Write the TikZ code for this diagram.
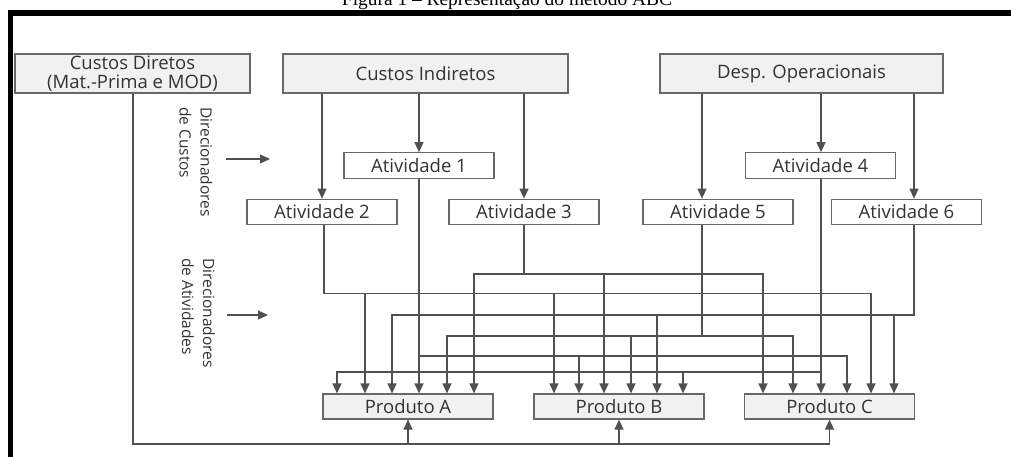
\documentclass[tikz,border=0pt]{standalone}
\usepackage{graphicx}
\usepackage{fontspec}
\setmainfont{Open Sans}
\newfontfamily\titlefont{Liberation Serif}
\usetikzlibrary{arrows.meta}
\definecolor{ln}{HTML}{505050}
\definecolor{bd}{HTML}{686868}
\definecolor{tx}{HTML}{333333}
\definecolor{fillg}{HTML}{F1F1F1}
\begin{document}
\begin{tikzpicture}[x=1pt,y=-1pt,
  box/.style={draw=bd, line width=1.2pt, inner sep=0pt, text=tx, font=\fontsize{18.5}{19}\selectfont, align=center},
  topbox/.style={box, fill=fillg, minimum height=39pt},
  actbox/.style={box, fill=white, minimum width=150pt, minimum height=25.5pt},
  prodbox/.style={box, fill=fillg, minimum width=170pt, minimum height=25pt},
  conn/.style={draw=ln, line width=1.2pt},
  arr/.style={conn, -{Triangle[length=10pt,width=9pt]}},
  lab/.style={rotate=-90, align=left, text=tx, font=\fontsize{15.5}{21}\selectfont, inner sep=0pt},
  frame/.style={draw=black, line width=5.5pt, line join=miter}
]
\useasboundingbox (0,0) rectangle (1011,457);
% title and frame
\node[anchor=base, inner sep=0pt] (title) at (507,5.5) {\resizebox{330pt}{!}{\titlefont\fontsize{14}{15}\selectfont Figura 1 – Representação do método ABC}};
\coordinate (fBL) at (10.5,460);
\coordinate (fTL) at (10.5,13);
\coordinate (fTR) at (1015,13);
\draw[frame] (fBL) -- (fTL) -- (fTR);

% top boxes
\node[topbox, minimum width=235pt] (cd) at (132.5,73.5) {Custos Diretos\\(Mat.-Prima e MOD)};
\node[topbox, minimum width=285pt] (ci) at (425.5,73.5) {Custos Indiretos};
\node[topbox, minimum width=283pt] (dp) at (801.5,73.5) {Desp. Operacionais};

% activities
\node[actbox] (a1) at (419,165.5) {Atividade 1};
\node[actbox] (a2) at (322,212) {Atividade 2};
\node[actbox] (a3) at (524,212) {Atividade 3};
\node[actbox] (a4) at (820.5,165.5) {Atividade 4};
\node[actbox] (a5) at (718,212) {Atividade 5};
\node[actbox] (a6) at (906.5,212) {Atividade 6};

% products
\node[prodbox] (pA) at (408,406.5) {Produto A};
\node[prodbox] (pB) at (619,406.5) {Produto B};
\node[prodbox] (pC) at (829.5,406.5) {Produto C};

% side labels
\node[lab] (dc) at (196,162) {Direcionadores\\de Custos};
\node[lab] (da) at (198.5,313) {Direcionadores\\de Atividades};
\coordinate (dcS) at (226,159);
\coordinate (dcE) at (270,159);
\coordinate (daS) at (227,315);
\coordinate (daE) at (268,315);
\draw[arr] (dcS) -- (dcE);
\draw[arr] (daS) -- (daE);

% resources to activities
\draw[arr] (ci.south -| a2) -- (a2.north);
\draw[arr] (ci.south -| a1) -- (a1.north);
\draw[arr] (ci.south -| a3) -- (a3.north);
\draw[arr] (dp.south -| 702,0) -- (a5.north -| 702,0);
\draw[arr] (dp.south -| 821,0) -- (a4.north -| 821,0);
\draw[arr] (dp.south -| 914,0) -- (a6.north -| 914,0);

% bus levels
\coordinate (L0) at (0,274);
\coordinate (L1) at (0,293.5);
\coordinate (L2) at (0,315);
\coordinate (L3) at (0,336);
\coordinate (L4) at (0,356);
\coordinate (L5) at (0,372);
\coordinate (Lb) at (0,444);

% Atividade 3 -> A, B, C
\draw[arr] (a3.south) -- (a3.south |- L0) -| (pA.north -| 474,0);
\draw[arr] (a3.south |- L0) -| (pB.north -| 604,0);
\draw[arr] (a3.south |- L0) -| (pC.north -| 763,0);
% Atividade 2 -> A, B, C
\draw[arr] (a2.south -| 324,0) -- (L1 -| 324,0) -| (pA.north -| 365,0);
\draw[arr] (L1 -| 324,0) -| (pB.north -| 554,0);
\draw[arr] (L1 -| 324,0) -| (pC.north -| 871,0);
% Atividade 6 -> A, B, C
\draw[arr] (a6.south -| 914,0) -- (L2 -| 914,0) -| (pC.north -| 894,0);
\draw[arr] (L2 -| 914,0) -| (pB.north -| 657,0);
\draw[arr] (L2 -| 914,0) -| (pA.north -| 392,0);
% Atividade 5 -> A, B, C
\draw[arr] (a5.south -| 702,0) -- (L3 -| 702,0) -| (pB.north -| 631,0);
\draw[arr] (L3 -| 702,0) -| (pA.north -| 447,0);
\draw[arr] (L3 -| 702,0) -| (pC.north -| 793,0);
% Atividade 1 -> A, B, C
\draw[arr] (a1.south) -- (pA.north -| a1.south);
\draw[arr] (a1.south |- L4) -| (pB.north -| 579,0);
\draw[arr] (a1.south |- L4) -| (pC.north -| 847,0);
% Atividade 4 -> A, B, C
\draw[arr] (a4.south -| 821,0) -- (pC.north -| 821,0);
\draw[arr] (L5 -| 821,0) -| (pB.north -| 683,0);
\draw[arr] (L5 -| 821,0) -| (pA.north -| 337,0);

% direct costs to products
\draw[arr] (cd.south -| 133,0) -- (Lb -| 133,0) -| (pC.south);
\draw[arr] (pA.south |- Lb) -- (pA.south);
\draw[arr] (pB.south |- Lb) -- (pB.south);
\end{tikzpicture}
\end{document}
